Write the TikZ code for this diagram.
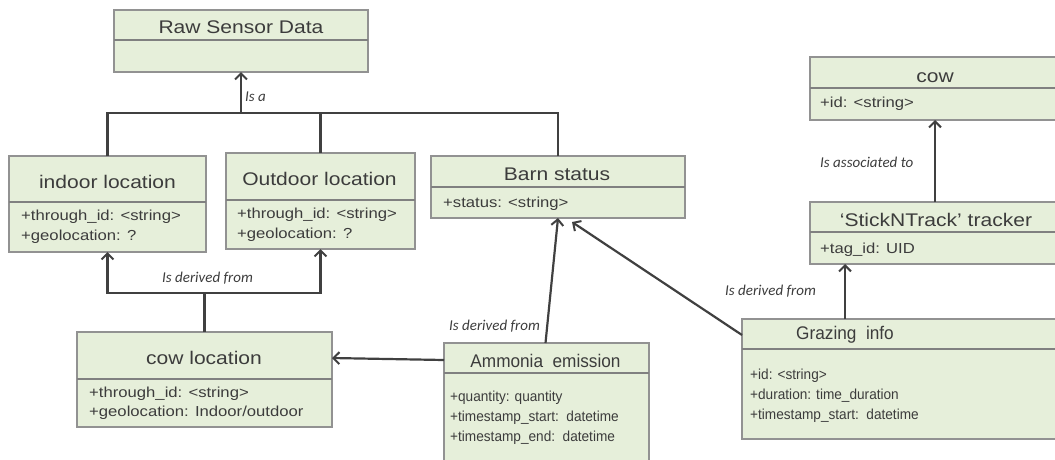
\documentclass[tikz,border=0pt]{standalone}
\usepackage{fontspec}
\setmainfont{Liberation Sans}
\newfontfamily\classfont[FakeStretch=1.15]{Liberation Sans}
\newfontfamily\narrowfont[FakeStretch=0.94]{Liberation Sans}
\newfontfamily\notefont{Carlito}
\usetikzlibrary{arrows.meta}

\definecolor{boxfill}{HTML}{E6EFDA}
\definecolor{boxline}{HTML}{929292}
\definecolor{divline}{HTML}{808080}
\definecolor{ink}{HTML}{3C3C3C}
\definecolor{wire}{HTML}{404040}

\tikzset{
  cbox/.style={draw=boxline, fill=boxfill, line width=1.3pt, rectangle,
    inner sep=0pt, outer sep=0pt},
  divider/.style={draw=divline, line width=1.5pt},
  ctitle/.style={font=\classfont\fontsize{18.3}{20}\selectfont, text=ink,
    inner sep=0pt, anchor=base},
  ctitlenarrow/.style={ctitle, font=\narrowfont\fontsize{18.3}{20}\selectfont},
  cattr/.style={font=\classfont\fontsize{14.5}{17}\selectfont, text=ink,
    inner sep=0pt, anchor=base west},
  cattrnarrow/.style={cattr, font=\narrowfont\fontsize{14.5}{17}\selectfont},
  note/.style={font=\notefont\itshape\fontsize{15}{17}\selectfont, text=ink,
    inner sep=0pt, anchor=base west},
  link/.style={draw=wire, line width=2.2pt},
  arrow/.style={link, -{Straight Barb[length=6pt, width=12pt, line width=2pt]}},
}

% class box: name, x1, y1, x2, y2, divider y, title x, title baseline y, title
\newcommand\classbox[9]{%
  \node[cbox, anchor=north west, minimum width={(#4-#2)*1pt},
        minimum height={(#5-#3)*1pt}] (#1) at (#2,-#3) {};
  \draw[divider] (#2,-#6) -- (#4,-#6);
  \node[ctitle] (#1-title) at (#7,-#8) {#9};
}

\begin{document}
\begin{tikzpicture}[x=1pt, y=1pt]
\useasboundingbox (0,0) rectangle (1055,-459);
\clip (0,0) rectangle (1055,-459);

% classes
\classbox{raw}{114}{10}{368}{72}{40}{241}{33}{Raw Sensor Data}
\classbox{indoor}{9}{156}{206}{252}{202}{107.5}{188}{indoor location}
\classbox{outdoor}{226}{153}{415}{249}{200}{319.5}{185}{Outdoor location}
\classbox{barn}{431}{156}{685}{218}{187}{557}{180}{Barn status}
\classbox{cow}{810}{57}{1060}{120}{88}{935}{82}{cow}
\classbox{stick}{810}{202}{1060}{264}{232}{936}{226}{‘StickNTrack’ tracker}
\classbox{grazing}{742}{319}{1060}{439}{349}{845}{339}{}
\classbox{ammonia}{444}{343}{649}{475}{373}{545.5}{367}{}
\classbox{cowloc}{77}{332}{332}{427}{379}{204}{364}{cow location}

% titles set in the narrower face
\node[ctitlenarrow] (grazing-name) at (845,-339) {Grazing~~info};
\node[ctitlenarrow] (ammonia-name) at (545.5,-367) {Ammonia~~emission};

% attributes
\node[cattr] (indoor-a1) at (21,-220) {+through\_id: <string>};
\node[cattr] (indoor-a2) at (21,-240) {+geolocation: ?};
\node[cattr] (outdoor-a1) at (237,-218) {+through\_id: <string>};
\node[cattr] (outdoor-a2) at (237,-238) {+geolocation: ?};
\node[cattr] (barn-a1) at (443,-207) {+status: <string>};
\node[cattr] (cow-a1) at (820,-107) {+id: <string>};
\node[cattr] (stick-a1) at (820,-253) {+tag\_id: UID};
\node[cattrnarrow] (grazing-a1) at (750,-379) {+id: <string>};
\node[cattrnarrow] (grazing-a2) at (750,-399) {+duration: time\_duration};
\node[cattrnarrow] (grazing-a3) at (750,-419) {+timestamp\_start:~~datetime};
\node[cattrnarrow] (ammonia-a1) at (450,-401) {+quantity: quantity};
\node[cattrnarrow] (ammonia-a2) at (450,-421) {+timestamp\_start:~~datetime};
\node[cattrnarrow] (ammonia-a3) at (450,-441) {+timestamp\_end:~~datetime};
\node[cattr] (cowloc-a1) at (89,-397) {+through\_id: <string>};
\node[cattr] (cowloc-a2) at (89,-416) {+geolocation: Indoor/outdoor};

% generalisation to raw sensor data
\coordinate (isa) at (241,-113);
\draw[link] (indoor.north) |- (isa) -| (barn.north);
\draw[link] (outdoor.north) -- (outdoor.north |- isa);
\draw[arrow] (isa) -- (raw.south);
\node[note] (isa-label) at (245,-101) {Is a};

% cow location derived from indoor / outdoor location
\coordinate (der) at (cowloc.north |- 0,-293);
\draw[link] (cowloc.north) -- (der);
\draw[arrow] (der) -| (indoor.south);
\draw[arrow] (der) -| (outdoor.south);
\node[note] (der-label) at (162,-282) {Is derived from};

% ammonia emission links
\draw[arrow] ([yshift=-17pt]ammonia.north west) -- ([yshift=-26pt]cowloc.north east);
\draw[arrow] ([xshift=-1pt]ammonia.north) -- (barn.south);
\node[note] (amm-label) at (449,-330) {Is derived from};

% grazing info links
\draw[arrow] ([yshift=-16pt]grazing.north west) -- ([xshift=14pt, yshift=-4pt]barn.south);
\node[note] (graz-label) at (725,-295) {Is derived from};
\coordinate (gtop) at ([xshift=103pt]grazing.north west);
\draw[arrow] (gtop) -- (gtop |- stick.south);

% tracker associated to cow
\draw[arrow] (stick.north) -- (cow.south);
\node[note] (assoc-label) at (820,-167) {Is associated to};
\end{tikzpicture}
\end{document}
